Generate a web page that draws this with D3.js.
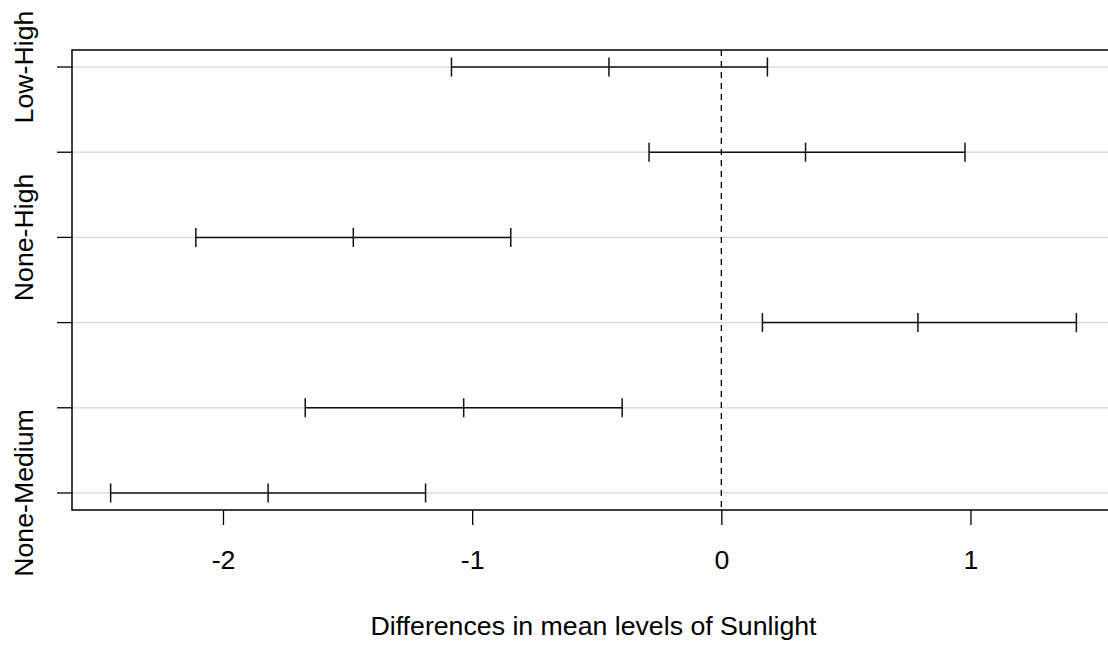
<!DOCTYPE html>
<html>
<head>
<meta charset="utf-8">
<script src="https://cdn.jsdelivr.net/npm/d3@7"></script>
<style>
  body { margin: 0; background: #fff; }
  text { font-family: "Liberation Sans", Arial, sans-serif; fill: #000; }
</style>
</head>
<body>
<div id="chart"></div>
<script>
// comparisons, top to bottom
const comparisons = ["Low-High", "Medium-High", "None-High", "Medium-Low", "None-Low", "None-Medium"];
const lwr  = [-1.083, -0.290, -2.109, 0.165, -1.670, -2.451];
const diff = [-0.451,  0.338, -1.477, 0.789, -1.034, -1.819];
const upr  = [ 0.185,  0.978, -0.845, 1.425, -0.398, -1.187];
// R drops the labels that would overlap
const shownLabels = ["Low-High", "None-High", "None-Medium"];
const xTicks = [-2, -1, 0, 1];

const width = 1108, height = 649;
const margin = { top: 50, left: 72, bottom: 139 };
const plotRight = 1115;
const fontSize = 26.7;

const svg = d3.select("#chart").append("svg")
  .attr("width", width)
  .attr("height", height);

// 4% padding like R's default axis style
const lo = d3.min(lwr), hi = d3.max(upr);
const padX = (hi - lo) * 0.04;
const x = d3.scaleLinear()
  .domain([lo - padX, hi + padX])
  .range([margin.left, plotRight]);

const n = comparisons.length;
const padY = (n - 1) * 0.04;
const y = d3.scaleLinear()
  .domain([n + padY, 1 - padY])
  .range([margin.top, height - margin.bottom]);

const rowY = (d, i) => y(n - i);

// grid lines
svg.append("g")
  .selectAll("line")
  .data(comparisons)
  .join("line")
  .attr("x1", margin.left)
  .attr("x2", width)
  .attr("y1", rowY)
  .attr("y2", rowY)
  .attr("stroke", "#d6d6d6")
  .attr("stroke-width", 1.3);

// zero line
svg.append("line")
  .attr("x1", x(0)).attr("x2", x(0))
  .attr("y1", y.range()[0]).attr("y2", y.range()[1])
  .attr("stroke", "#000")
  .attr("stroke-width", 1.3)
  .attr("stroke-dasharray", "6,5");

// intervals
const bars = svg.append("g")
  .attr("stroke", "#111")
  .attr("stroke-width", 1.5);

comparisons.forEach((c, i) => {
  const yy = rowY(c, i);
  bars.append("line")
    .attr("x1", x(lwr[i])).attr("x2", x(upr[i]))
    .attr("y1", yy).attr("y2", yy);
  [lwr[i], diff[i], upr[i]].forEach(v => {
    bars.append("line")
      .attr("x1", x(v)).attr("x2", x(v))
      .attr("y1", yy - 9.5).attr("y2", yy + 9.5);
  });
});

// x axis
const xAxis = svg.append("g")
  .attr("transform", `translate(0,${y.range()[1]})`)
  .call(d3.axisBottom(x).tickValues(xTicks).tickSize(15).tickFormat(d3.format("d")));
xAxis.select(".domain").remove();
xAxis.selectAll("line").attr("stroke", "#000").attr("stroke-width", 1.3);
xAxis.selectAll("text")
  .attr("y", 59)
  .attr("dy", 0)
  .attr("font-size", fontSize)
  .attr("font-family", "Liberation Sans, Arial, sans-serif")
  .text(d => d < 0 ? "-" + Math.abs(d) : d);

// y axis ticks
svg.append("g")
  .selectAll("line")
  .data(comparisons)
  .join("line")
  .attr("x1", margin.left - 15)
  .attr("x2", margin.left)
  .attr("y1", rowY)
  .attr("y2", rowY)
  .attr("stroke", "#000")
  .attr("stroke-width", 1.3);

svg.append("g")
  .selectAll("text")
  .data(comparisons.map((c, i) => ({ c, i })).filter(d => shownLabels.includes(d.c)))
  .join("text")
  .attr("transform", d => `translate(33,${rowY(d.c, d.i)}) rotate(-90)`)
  .attr("text-anchor", "middle")
  .attr("font-size", fontSize)
  .text(d => d.c);

// box (right side runs off the page)
svg.append("path")
  .attr("d", `M${width + 5},${y.range()[0]} H${margin.left} V${y.range()[1]} H${width + 5}`)
  .attr("fill", "none")
  .attr("stroke", "#000")
  .attr("stroke-width", 1.5);

svg.append("text")
  .attr("x", (margin.left + plotRight) / 2)
  .attr("y", 635)
  .attr("text-anchor", "middle")
  .attr("font-size", fontSize)
  .text("Differences in mean levels of Sunlight");
</script>
</body>
</html>
